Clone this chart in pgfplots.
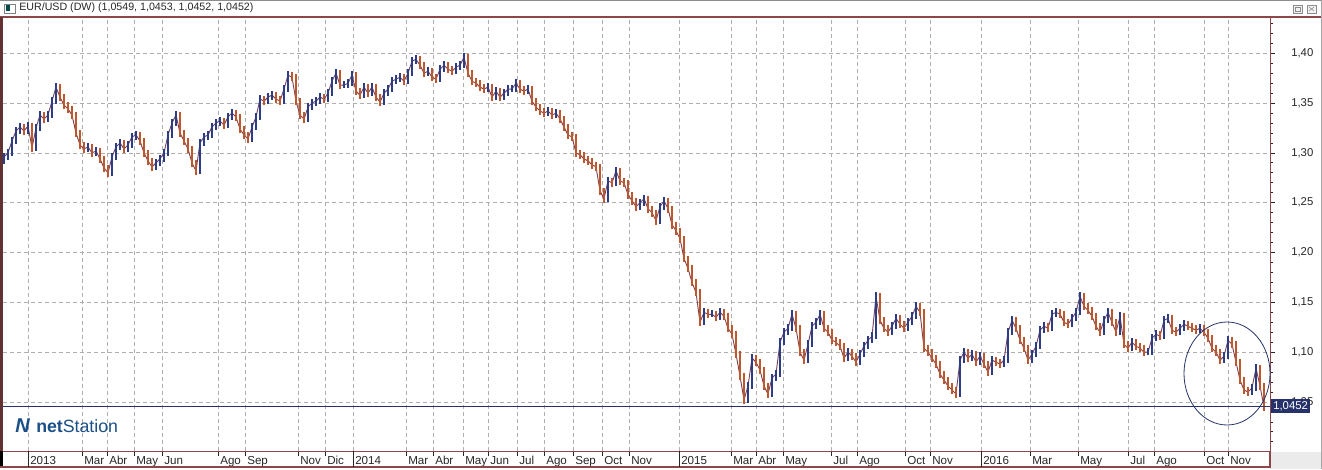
\documentclass[border=0pt]{standalone}
\usepackage{fontspec}
\setmainfont{Liberation Sans}
\usepackage{pgfplots}
\pgfplotsset{compat=1.18}
\usepackage{pgfplotstable}
\definecolor{upc}{RGB}{45,60,135}
\definecolor{dnc}{RGB}{192,86,44}
\definecolor{midc}{RGB}{120,70,90}
\definecolor{framec}{RGB}{140,72,72}
\definecolor{navy}{RGB}{38,50,105}
\definecolor{gridc}{RGB}{175,175,175}
\definecolor{logob}{RGB}{26,80,135}

\pgfplotstableread{
x c p
4 1.296 1.292
8 1.300 1.296
12 1.312 1.300
16 1.322 1.312
20 1.326 1.322
24 1.322 1.326
28 1.327 1.322
32 1.305 1.327
36 1.325 1.305
40 1.338 1.325
44 1.334 1.338
48 1.338 1.334
52 1.352 1.338
56 1.366 1.352
60 1.356 1.366
64 1.348 1.356
68 1.344 1.348
72 1.338 1.344
76 1.320 1.338
80 1.308 1.320
84 1.304 1.308
88 1.306 1.304
92 1.300 1.306
96 1.302 1.300
100 1.294 1.302
104 1.285 1.294
108 1.280 1.285
112 1.296 1.280
116 1.306 1.296
120 1.310 1.306
124 1.304 1.310
128 1.308 1.304
132 1.316 1.308
136 1.318 1.316
140 1.312 1.318
144 1.300 1.312
148 1.292 1.300
152 1.286 1.292
156 1.290 1.286
160 1.294 1.290
164 1.300 1.294
168 1.318 1.300
172 1.330 1.318
176 1.338 1.330
180 1.320 1.338
184 1.312 1.320
188 1.304 1.312
192 1.290 1.304
196 1.282 1.290
200 1.310 1.282
204 1.316 1.310
208 1.318 1.316
212 1.326 1.318
216 1.330 1.326
220 1.332 1.330
224 1.328 1.332
228 1.336 1.328
232 1.340 1.336
236 1.336 1.340
240 1.324 1.336
244 1.318 1.324
248 1.314 1.318
252 1.326 1.314
256 1.336 1.326
260 1.354 1.336
264 1.352 1.354
268 1.356 1.352
272 1.358 1.356
276 1.354 1.358
280 1.352 1.354
284 1.364 1.352
288 1.378 1.364
292 1.376 1.378
296 1.352 1.376
300 1.338 1.352
304 1.334 1.338
308 1.346 1.334
312 1.350 1.346
316 1.352 1.350
320 1.356 1.352
324 1.354 1.356
328 1.360 1.354
332 1.372 1.360
336 1.380 1.372
340 1.368 1.380
344 1.368 1.368
348 1.370 1.368
352 1.378 1.370
356 1.362 1.378
360 1.358 1.362
364 1.366 1.358
368 1.360 1.366
372 1.366 1.360
376 1.356 1.366
380 1.351 1.356
384 1.360 1.351
388 1.364 1.360
392 1.372 1.364
396 1.374 1.372
400 1.376 1.374
404 1.372 1.376
408 1.380 1.372
412 1.392 1.380
416 1.394 1.392
420 1.388 1.394
424 1.380 1.388
428 1.382 1.380
432 1.376 1.382
436 1.374 1.376
440 1.384 1.374
444 1.388 1.384
448 1.384 1.388
452 1.382 1.384
456 1.386 1.382
460 1.388 1.386
464 1.396 1.388
468 1.380 1.396
472 1.372 1.380
476 1.370 1.372
480 1.366 1.370
484 1.364 1.366
488 1.366 1.364
492 1.356 1.366
496 1.362 1.356
500 1.356 1.362
504 1.360 1.356
508 1.364 1.360
512 1.364 1.364
516 1.370 1.364
520 1.364 1.370
524 1.362 1.364
528 1.364 1.362
532 1.352 1.364
536 1.346 1.352
540 1.342 1.346
544 1.340 1.342
548 1.342 1.340
552 1.338 1.342
556 1.340 1.338
560 1.334 1.340
564 1.326 1.334
568 1.318 1.326
572 1.316 1.318
576 1.300 1.316
580 1.298 1.300
584 1.294 1.298
588 1.292 1.294
592 1.288 1.292
596 1.286 1.288
600 1.262 1.286
604 1.254 1.262
608 1.272 1.254
612 1.270 1.272
616 1.282 1.270
620 1.272 1.282
624 1.270 1.272
628 1.258 1.270
632 1.252 1.258
636 1.246 1.252
640 1.250 1.246
644 1.254 1.250
648 1.244 1.254
652 1.240 1.244
656 1.232 1.240
660 1.246 1.232
664 1.252 1.246
668 1.244 1.252
672 1.228 1.244
676 1.222 1.228
680 1.214 1.222
684 1.194 1.214
688 1.184 1.194
692 1.170 1.184
696 1.160 1.170
700 1.130 1.160
704 1.140 1.130
708 1.138 1.140
712 1.138 1.138
716 1.135 1.138
720 1.140 1.135
724 1.136 1.140
728 1.124 1.136
732 1.118 1.124
736 1.098 1.118
740 1.076 1.098
744 1.052 1.076
748 1.066 1.052
752 1.094 1.066
756 1.090 1.094
760 1.082 1.090
764 1.066 1.082
768 1.058 1.066
772 1.074 1.058
776 1.078 1.074
780 1.110 1.078
784 1.120 1.110
788 1.124 1.120
792 1.138 1.124
796 1.124 1.138
800 1.100 1.124
804 1.092 1.100
808 1.108 1.092
812 1.126 1.108
816 1.130 1.126
820 1.138 1.130
824 1.124 1.138
828 1.120 1.124
832 1.112 1.120
836 1.110 1.112
840 1.106 1.110
844 1.094 1.106
848 1.100 1.094
852 1.096 1.100
856 1.090 1.096
860 1.098 1.090
864 1.106 1.098
868 1.112 1.106
872 1.116 1.112
876 1.156 1.116
880 1.132 1.156
884 1.124 1.132
888 1.120 1.124
892 1.126 1.120
896 1.134 1.126
900 1.128 1.134
904 1.124 1.128
908 1.130 1.124
912 1.136 1.130
916 1.146 1.136
920 1.140 1.146
924 1.104 1.140
928 1.100 1.104
932 1.094 1.100
936 1.088 1.094
940 1.078 1.088
944 1.072 1.078
948 1.066 1.072
952 1.062 1.066
956 1.058 1.062
960 1.092 1.058
964 1.100 1.092
968 1.094 1.100
972 1.098 1.094
976 1.090 1.098
980 1.096 1.090
984 1.088 1.096
988 1.080 1.088
992 1.092 1.080
996 1.090 1.092
1000 1.088 1.090
1004 1.092 1.088
1008 1.120 1.092
1012 1.132 1.120
1016 1.124 1.132
1020 1.112 1.124
1024 1.104 1.112
1028 1.092 1.104
1032 1.098 1.092
1036 1.106 1.098
1040 1.122 1.106
1044 1.126 1.122
1048 1.124 1.126
1052 1.138 1.124
1056 1.140 1.138
1060 1.138 1.140
1064 1.130 1.138
1068 1.128 1.130
1072 1.134 1.128
1076 1.140 1.134
1080 1.156 1.140
1084 1.146 1.156
1088 1.142 1.146
1092 1.136 1.142
1096 1.126 1.136
1100 1.120 1.126
1104 1.132 1.120
1108 1.140 1.132
1112 1.130 1.140
1116 1.120 1.130
1120 1.136 1.120
1124 1.108 1.136
1128 1.104 1.108
1132 1.110 1.104
1136 1.106 1.110
1140 1.104 1.106
1144 1.100 1.104
1148 1.100 1.100
1152 1.114 1.100
1156 1.118 1.114
1160 1.116 1.118
1164 1.132 1.116
1168 1.134 1.132
1172 1.122 1.134
1176 1.120 1.122
1180 1.124 1.120
1184 1.128 1.124
1188 1.126 1.128
1192 1.124 1.126
1196 1.122 1.124
1200 1.124 1.122
1204 1.120 1.124
1208 1.114 1.120
1212 1.104 1.114
1216 1.100 1.104
1220 1.092 1.100
1224 1.096 1.092
1228 1.112 1.096
1232 1.108 1.112
1236 1.090 1.108
1240 1.072 1.090
1244 1.062 1.072
1248 1.060 1.062
1252 1.064 1.060
1256 1.084 1.064
1260 1.066 1.084
1264 1.0452 1.066
}\eur

\begin{document}
\begin{tikzpicture}[x=0.75pt,y=0.75pt]
\begin{axis}[
  at={(0,0)}, anchor=south west, scale only axis,
  width=950.25pt, height=325.5pt,
  xmin=3, xmax=1270, ymin=1.0008, ymax=1.4364,
  axis line style={draw=framec, line width=0.75pt},
  xtick={28,82,107,134,162,218,245,298,325,353,406,433,463,488,517,544,573,602,629,679,731,756,783,831,857,905,930,981,1030,1078,1128,1154,1204,1228},
  xticklabels={2013,Mar,Abr,May,Jun,Ago,Sep,Nov,Dic,2014,Mar,Abr,May,Jun,Jul,Ago,Sep,Oct,Nov,2015,Mar,Abr,May,Jul,Ago,Oct,Nov,2016,Mar,May,Jul,Ago,Oct,Nov},
  ytick={1.05,1.1,1.15,1.2,1.25,1.3,1.35,1.4},
  minor ytick={1.01,1.02,1.03,1.04,1.06,1.07,1.08,1.09,1.11,1.12,1.13,1.14,1.16,1.17,1.18,1.19,1.21,1.22,1.23,1.24,1.26,1.27,1.28,1.29,1.31,1.32,1.33,1.34,1.36,1.37,1.38,1.39,1.41,1.42,1.43},
  xtick pos=left, ytick pos=right,
  tick align=outside,
  major tick length=3.75pt, minor tick length=2.25pt,
  tick style={draw=black!85, line width=0.6pt},
  grid=major,
  major grid style={draw=gridc, dash pattern=on 3pt off 2.25pt, line width=0.6pt},
  xticklabel style={font=\fontsize{8.7}{10}\selectfont, anchor=north west, inner sep=0pt, xshift=1.5pt, text=black!85},
  yticklabel style={font=\fontsize{8.5}{10}\selectfont, anchor=west, inner sep=0pt, xshift=12pt, text=black!85},
  /pgf/number format/.cd, use comma, fixed, fixed zerofill, precision=2, assume math mode=true,
]
\addplot[midc, line width=0.7pt, mark=none] table[x=x, y=c] {\eur};
\addplot[draw=none, mark=none, restrict expr to domain={\thisrow{c}-\thisrow{p}}{0:1},
  error bars/.cd, y dir=both, y explicit, error mark=none,
  error bar style={draw=upc, line width=1.25pt}]
  table[x=x, y=c,
    y error plus expr={max(\thisrow{c},\thisrow{p})-\thisrow{c}+0.004},
    y error minus expr={\thisrow{c}-min(\thisrow{c},\thisrow{p})+0.003}] {\eur};
\addplot[draw=none, mark=none, restrict expr to domain={\thisrow{c}-\thisrow{p}}{-1:-0.0001},
  error bars/.cd, y dir=both, y explicit, error mark=none,
  error bar style={draw=dnc, line width=1.25pt}]
  table[x=x, y=c,
    y error plus expr={max(\thisrow{c},\thisrow{p})-\thisrow{c}+0.003},
    y error minus expr={\thisrow{c}-min(\thisrow{c},\thisrow{p})+0.004}] {\eur};
\addplot[navy, line width=0.8pt] coordinates {(3,1.0452) (1270,1.0452)};
\coordinate (bl) at (rel axis cs:0,0);
\end{axis}
\begin{scope}[shift={(bl)}, xshift=-2.25pt, yshift=-13.5pt]
\pgfresetboundingbox
\useasboundingbox (0,0) rectangle (1322,469);
\fill[black!8] (1270,0) rectangle (1322,17);
% frame pieces
\draw[black!45, line width=0.75pt] (0,468.6) -- (1322,468.6);
\draw[framec, line width=0.9pt] (0,452) -- (1322,452);
\fill[framec!70!black] (0,18) rectangle (2.6,452);
\fill[black] (0,2) rectangle (3,18);
\draw[framec, line width=0.9pt] (0,2) -- (1270,2) -- (1270,18);
\draw[black!35, line width=0.75pt] (1321.5,0) -- (1321.5,469);
% year ticks
\foreach \yx in {28,353,679,981} \draw[black!85, line width=0.6pt] (\yx,2) -- (\yx,18);
% title bar
\draw[black!50, fill=white] (4.5,456) rectangle (15,465);
\fill[teal!60!black] (6,457.5) rectangle (9.5,463.5);
\node[anchor=base west, inner sep=0pt, font=\fontsize{8}{9}\selectfont, text=black!85] at (19,458) {EUR/USD (DW) (1,0549, 1,0453, 1,0452, 1,0452)};
\draw[black!45, fill=black!5] (1293,456) rectangle (1302,464);
\draw[black!45] (1295,458) rectangle (1300,462);
\draw[black!45, fill=black!5] (1307,456) rectangle (1316,464);
\draw[black!45] (1309,458) -- (1314,462) (1309,462) -- (1314,458);
% price label
\node[fill=navy, text=white, inner sep=1.5pt, anchor=west, font=\fontsize{8.5}{10}\selectfont] at (1271,63) {1,0452};
% ellipse
\draw[navy, line width=0.6pt] (1227,95.5) ellipse [x radius=43, y radius=51.5];
% logo
\node[anchor=base west, inner sep=0pt, font=\fontsize{15}{16}\selectfont\bfseries\itshape, text=logob] at (15,37) {N};
\node[anchor=base west, inner sep=0pt, font=\fontsize{13.3}{15}\selectfont, text=logob] at (36,37) {\textbf{net}Station};
\end{scope}
\end{tikzpicture}
\end{document}
